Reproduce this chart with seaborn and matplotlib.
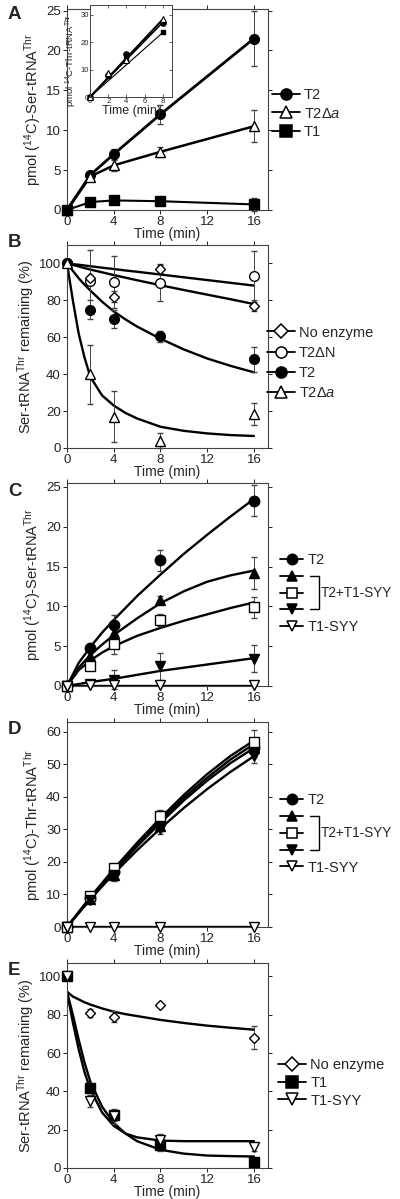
import numpy as np
import pandas as pd
import seaborn as sns
import matplotlib
matplotlib.use("Agg")
import matplotlib.pyplot as plt
from matplotlib.lines import Line2D

sns.set_style("ticks")
plt.rcParams['font.family'] = ['Liberation Sans', 'DejaVu Sans']
plt.rcParams['mathtext.fontset'] = 'custom'
plt.rcParams['mathtext.rm'] = 'Liberation Sans'
plt.rcParams['mathtext.it'] = 'Liberation Sans:italic'
plt.rcParams['mathtext.bf'] = 'Liberation Sans:bold'

# ---- data ----
time = [0, 2, 4, 8, 16]

# A
a_t2 = [0, 4.4, 7.0, 12.0, 21.5]
a_t2_err = [0, 0.4, 0.6, 1.2, 3.4]
a_t2da = [0, 4.2, 5.6, 7.3, 10.5]
a_t2da_err = [0, 0.5, 0.7, 0.6, 2.0]
a_t1 = [0, 1.0, 1.2, 1.1, 0.7]
a_t1_err = [0, 0.5, 0.3, 0.3, 0.8]
# A inset
ins_time = [0, 2, 4, 8]
ins_t2 = [0, 8.0, 15.8, 27.0]
ins_t2da = [0, 8.8, 13.5, 28.5]
ins_t1 = [0, 7.6, 14.0, 23.5]
ins_fit_t = [0, 8]
ins_fit_t2 = [0, 27.2]
ins_fit_t2da = [0, 28.3]
ins_fit_t1 = [0, 23.5]

# B
b_noenz = [100, 92, 82, 97, 77]
b_noenz_err = [0, 2, 3, 2, 3]
b_t2dn = [100, 90.5, 90, 89.5, 93]
b_t2dn_err = [0, 17, 14, 10, 14]
b_t2 = [100, 75, 70, 60.5, 48]
b_t2_err = [0, 5, 5, 3, 7]
b_t2da = [100, 40, 17, 4, 18.5]
b_t2da_err = [0, 16, 14, 4, 6]
b_fit_t = [0, 0.5, 1, 1.5, 2, 3, 4, 5, 6, 8, 10, 12, 14, 16]
b_fit_noenz = [100, 99.2, 98.4, 97.5, 96.7, 95.2, 93.7, 92.3, 90.9, 88.2, 85.6, 83.1, 80.6, 78]
b_fit_t2dn = [100, 99.6, 99.3, 98.9, 98.5, 97.7, 97, 96.2, 95.5, 94, 92.5, 91, 89.5, 88]
b_fit_t2 = [100, 96, 92, 88.5, 85.3, 79.3, 74, 69.7, 65.8, 59.2, 53.4, 48.5, 44.5, 41]
b_fit_t2da = [100, 80, 62, 49, 38.5, 28.5, 23, 19, 16, 11.5, 9.3, 7.9, 7.0, 6.5]

# C
c_t2 = [0, 4.8, 7.7, 15.8, 23.3]
c_t2_err = [0, 0.5, 1.2, 1.3, 2.0]
c_mix1 = [0, 3.8, 6.6, 10.8, 14.2]
c_mix1_err = [0, 0.5, 0.8, 0.5, 2.0]
c_mix2 = [0, 2.5, 5.3, 8.3, 9.9]
c_mix2_err = [0, 0.4, 1.3, 0.8, 1.3]
c_mix3 = [0, 0.3, 0.8, 2.5, 3.4]
c_mix3_err = [0, 0.3, 1.2, 1.7, 1.7]
c_syy = [0, 0.1, 0.1, 0.1, 0.1]
c_fit_t = [0, 1, 2, 3, 4, 6, 8, 10, 12, 14, 16]
c_fit_t2 = [0, 2.9, 4.9, 6.7, 8.3, 11.3, 14.0, 16.6, 19.0, 21.3, 23.5]
c_fit_mix1 = [0, 2.3, 3.9, 5.2, 6.4, 8.5, 10.4, 11.9, 13.1, 13.9, 14.5]
c_fit_mix2 = [0, 2.0, 3.2, 4.2, 5.0, 6.3, 7.3, 8.2, 9.0, 9.8, 10.5]
c_fit_mix3 = [0, 0.25, 0.5, 0.7, 0.9, 1.4, 1.9, 2.3, 2.7, 3.1, 3.5]
c_fit_syy = [0, 0, 0, 0, 0, 0, 0, 0, 0, 0, 0]

# D
d_t2 = [0, 9.0, 17.0, 32.0, 55.0]
d_t2_err = [0, 0.8, 1.0, 1.5, 2.5]
d_mix1 = [0, 8.5, 16.0, 31.0, 55.0]
d_mix1_err = [0, 0.8, 1.5, 1.5, 2.5]
d_mix2 = [0, 9.5, 18.0, 34.0, 57.0]
d_mix2_err = [0, 1.0, 1.5, 2.0, 3.5]
d_mix3 = [0, 8.3, 16.0, 30.0, 52.5]
d_mix3_err = [0, 1.0, 2.0, 1.5, 2.0]
d_syy = [0, 0, 0, 0, 0]
d_fit_t = [0, 2, 4, 6, 8, 10, 12, 14, 16]
d_fit_t2 = [0, 9.0, 17.5, 25.3, 32.8, 39.7, 45.9, 51.5, 56.2]
d_fit_mix1 = [0, 8.8, 17.0, 24.8, 32.0, 38.9, 45.0, 50.4, 55.0]
d_fit_mix2 = [0, 9.2, 17.8, 25.9, 33.5, 40.6, 47.0, 52.6, 57.3]
d_fit_mix3 = [0, 8.5, 16.4, 23.6, 30.3, 36.6, 42.4, 47.7, 52.5]
d_fit_syy = [0, 0, 0, 0, 0, 0, 0, 0, 0]

# E
e_noenz = [100, 81, 79, 85, 68]
e_noenz_err = [0, 2, 3, 0, 6]
e_t1 = [100, 41.5, 27.5, 12, 3]
e_t1_err = [0, 2, 3, 3, 0]
e_syy = [100, 35, 27, 14.5, 11]
e_syy_err = [0, 3, 4, 3, 2]
e_fit_t = [0, 0.5, 1, 1.5, 2, 3, 4, 5, 6, 8, 10, 12, 14, 16]
e_fit_noenz = [92, 89.5, 88, 86.5, 85.3, 83.3, 81.6, 80.3, 79.3, 77.3, 75.7, 74.3, 73.2, 72.2]
e_fit_t1 = [92, 80, 67, 55, 45, 32, 23.5, 18, 14, 9.5, 7.5, 6.5, 6.2, 6]
e_fit_syy = [92, 76, 62, 50, 41, 29, 22, 18, 16, 14.3, 14, 14, 14, 14]

# ---- layout ----
W, H = 400, 1199
fig = plt.figure(figsize=(W / 100, H / 100), dpi=100)


def px_axes(left, top, right, bottom):
    return fig.add_axes([left / W, 1 - bottom / H, (right - left) / W, (bottom - top) / H])


def style(ax, ymax, yticks, ylabel):
    ax.set_xlim(0, 17.2)
    ax.set_xticks([0, 4, 8, 12, 16])
    ax.set_ylim(0, ymax)
    ax.set_yticks(yticks)
    ax.tick_params(direction='out', length=3, width=0.7, top=True, right=True,
                   labelsize=9.5, pad=1.5, colors='#222')
    for s in ax.spines.values():
        s.set_linewidth(0.8)
        s.set_color('#444')
    ax.set_xlabel('Time (min)', fontsize=10, labelpad=-1)
    ax.set_ylabel(ylabel, fontsize=10.5, labelpad=2)


def curve(ax, t, y, lw=1.7):
    sns.lineplot(x=t, y=y, ax=ax, color='k', lw=lw, zorder=2, sort=False)


def points(ax, t, y, err, marker, fill, ms=6.5):
    ax.errorbar(t, y, yerr=err, fmt=marker, mfc=fill, mec='k', mew=1.0, ms=ms,
                ecolor='#444', elinewidth=0.7, capsize=2, capthick=0.7,
                zorder=3, clip_on=False)


def handle(marker, fill, ms=8):
    return Line2D([], [], color='k', lw=1.3, marker=marker, mfc=fill, mec='k', mew=1.1, ms=ms)


def legend(ax, handles, labels, x, y, spacing, hl=1.9):
    return ax.legend(handles, labels, loc='center left', bbox_to_anchor=(x, y), frameon=False,
                     fontsize=10.5, handlelength=hl, handletextpad=0.3, borderpad=0,
                     borderaxespad=0, labelspacing=spacing)


ylab_ser = 'pmol ($^{14}$C)-Ser-tRNA$^{\\rm Thr}$'
ylab_thr = 'pmol ($^{14}$C)-Thr-tRNA$^{\\rm Thr}$'
ylab_rem = 'Ser-tRNA$^{\\rm Thr}$ remaining (%)'

# ---- A ----
axA = px_axes(67, 9, 268, 210)
curve(axA, time, a_t2, lw=2.0)
curve(axA, time, a_t2da, lw=1.8)
curve(axA, time, a_t1, lw=1.5)
points(axA, time, a_t2, a_t2_err, 'o', 'k', 7)
points(axA, time, a_t2da, a_t2da_err, '^', 'w', 7)
points(axA, time, a_t1, a_t1_err, 's', 'k', 6.5)
style(axA, 25.2, [0, 5, 10, 15, 20, 25], ylab_ser)
legend(axA, [handle('o', 'k'), handle('^', 'w'), handle('s', 'k')],
       ['T2', 'T2Δ$\\it{a}$', 'T1'], 1.02, 0.48, 0.3)

insA = px_axes(90, 5, 172, 97)
sns.lineplot(x=ins_fit_t, y=ins_fit_t2da, ax=insA, color='k', lw=1.5)
sns.lineplot(x=ins_fit_t, y=ins_fit_t2, ax=insA, color='k', lw=1.1)
sns.lineplot(x=ins_fit_t, y=ins_fit_t1, ax=insA, color='k', lw=0.8)
insA.plot(ins_time, ins_t1, 's', mfc='k', mec='k', ms=3.5, ls='none', clip_on=False)
insA.plot(ins_time, ins_t2, 'o', mfc='k', mec='k', ms=3.8, ls='none', clip_on=False)
insA.plot(ins_time, ins_t2da, '^', mfc='w', mec='k', mew=0.8, ms=4, ls='none', clip_on=False)
insA.set_xlim(0, 9)
insA.set_ylim(0, 33.5)
insA.set_xticks([0, 2, 4, 6, 8])
insA.set_yticks([0, 10, 20, 30])
insA.tick_params(direction='in', length=2, width=0.5, labelsize=5.5, pad=1, top=True, right=True)
for s in insA.spines.values():
    s.set_linewidth(0.7)
    s.set_color('#444')
insA.set_xlabel('Time (min)', fontsize=9, labelpad=0)
insA.set_ylabel('pmol $^{14}$C-Thr-tRNA$^{\\rm Thr}$', fontsize=6.8, labelpad=1)
insA.yaxis.set_label_coords(-0.15, 0.4)

# ---- B ----
axB = px_axes(67, 245, 268, 448)
curve(axB, b_fit_t, b_fit_noenz)
curve(axB, b_fit_t, b_fit_t2dn)
curve(axB, b_fit_t, b_fit_t2)
curve(axB, b_fit_t, b_fit_t2da)
points(axB, time, b_t2dn, b_t2dn_err, 'o', 'w', 7)
points(axB, time, b_noenz, b_noenz_err, 'D', 'w', 5.5)
points(axB, time, b_t2, b_t2_err, 'o', 'k', 7)
points(axB, time, b_t2da, b_t2da_err, '^', 'w', 6.5)
style(axB, 110, [0, 20, 40, 60, 80, 100], ylab_rem)
legend(axB, [handle('D', 'w', 7), handle('o', 'w'), handle('o', 'k'), handle('^', 'w')],
       ['No enzyme', 'T2ΔN', 'T2', 'T2Δ$\\it{a}$'], 0.995, 0.42, 0.42)

# ---- C and D ----
def mix_panel(top, bottom, ymax, yticks, ylabel, fits, data, errs, fit_t):
    ax = px_axes(67, top, 268, bottom)
    for f in fits:
        curve(ax, fit_t, f)
    specs = [('o', 'k', 7.5), ('^', 'k', 7), ('s', 'w', 7), ('v', 'k', 7), ('v', 'w', 7)]
    for (m, fc, ms), y, e in zip(specs, data, errs):
        points(ax, time, y, e, m, fc, ms)
    style(ax, ymax, yticks, ylabel)
    leg = legend(ax, [handle(m, fc, 7.5) for m, fc, _ in specs],
                 ['T2', '', '', '', 'T1-SYY'], 1.06, 0.455, 0.2, hl=1.6)
    return ax, leg


axC, legC = mix_panel(483, 686, 25.5, [0, 5, 10, 15, 20, 25], ylab_ser,
                      [c_fit_t2, c_fit_mix1, c_fit_mix2, c_fit_mix3, c_fit_syy],
                      [c_t2, c_mix1, c_mix2, c_mix3, c_syy],
                      [c_t2_err, c_mix1_err, c_mix2_err, c_mix3_err, [0] * 5], c_fit_t)
axD, legD = mix_panel(722, 927, 63, [0, 10, 20, 30, 40, 50, 60], ylab_thr,
                      [d_fit_t2, d_fit_mix1, d_fit_mix2, d_fit_mix3, d_fit_syy],
                      [d_t2, d_mix1, d_mix2, d_mix3, d_syy],
                      [d_t2_err, d_mix1_err, d_mix2_err, d_mix3_err, [0] * 5], d_fit_t)

# ---- E ----
axE = px_axes(67, 963, 268, 1168)
curve(axE, e_fit_t, e_fit_noenz)
curve(axE, e_fit_t, e_fit_t1)
curve(axE, e_fit_t, e_fit_syy)
points(axE, time, e_noenz, e_noenz_err, 'D', 'w', 5.5)
points(axE, time, e_t1, e_t1_err, 's', 'k', 7)
points(axE, time, e_syy, e_syy_err, 'v', 'w', 6.5)
style(axE, 107, [0, 20, 40, 60, 80, 100], ylab_rem)
legend(axE, [handle('D', 'w', 7), handle('s', 'k'), handle('v', 'w')],
       ['No enzyme', 'T1', 'T1-SYY'], 1.05, 0.415, 0.25)

# panel letters
for letter, top in zip('ABCDE', [6, 234, 483, 721, 962]):
    fig.text(8 / W, 1 - top / H, letter, fontsize=13.5, fontweight='bold', va='top', ha='left')

# brackets for the T2+T1-SYY group
fig.canvas.draw()
rend = fig.canvas.get_renderer()
for leg in (legC, legD):
    lines = leg.get_lines()
    e1 = lines[1].get_window_extent(rend)
    e3 = lines[3].get_window_extent(rend)
    y1 = (e1.y0 + e1.y1) / 2
    y3 = (e3.y0 + e3.y1) / 2
    x0 = max(e1.x1, e3.x1) + 1
    xb = x0 + 9
    fig.add_artist(Line2D([x0 / W, xb / W, xb / W, x0 / W],
                          [y1 / H, y1 / H, y3 / H, y3 / H],
                          transform=fig.transFigure, color='k', lw=1.0))
    fig.text((xb + 2) / W, (y1 + y3) / 2 / H, 'T2+T1-SYY', fontsize=9.8,
             va='center', ha='left')

fig.savefig('out.png', dpi=100)
